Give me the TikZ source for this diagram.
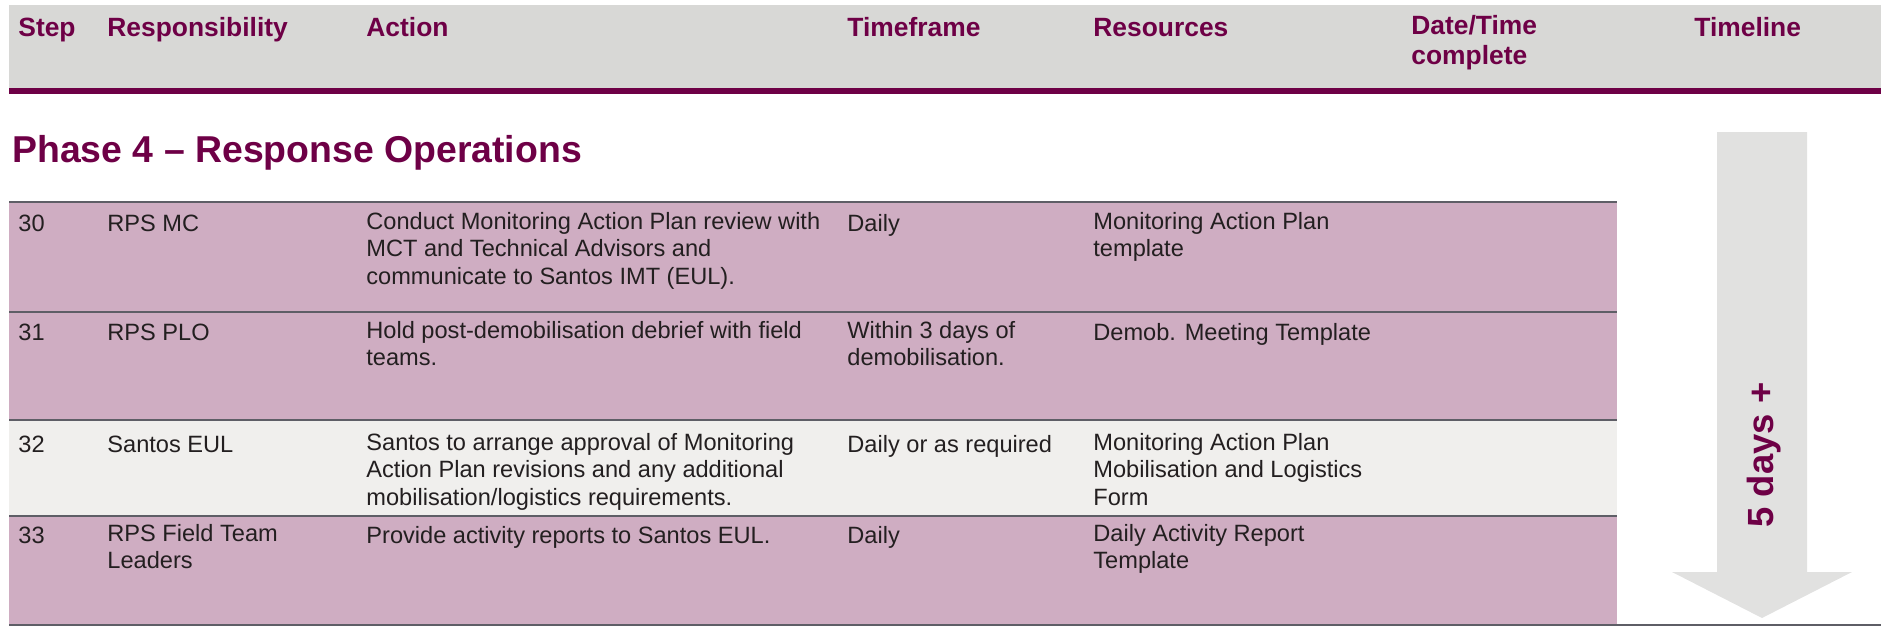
\documentclass[tikz,border=0pt]{standalone}
\usepackage{fontspec}
\setmainfont{Liberation Sans}
\definecolor{plum}{HTML}{6E0046}
\definecolor{headgray}{HTML}{D8D8D6}
\definecolor{rowplum}{HTML}{CFADC2}
\definecolor{rowgray}{HTML}{F0EFED}
\definecolor{rulegray}{HTML}{5E5E66}
\definecolor{arrowgray}{HTML}{E1E1E0}
\definecolor{ink}{HTML}{231F20}

\begin{document}
\begin{tikzpicture}[x=0.5pt, y=-0.5pt,
   head/.style={anchor=north west, yshift=10.5pt, inner sep=0pt, align=left, text=plum,
                execute at begin node=\strut, font=\fontsize{13.2}{15}\selectfont\bfseries},
   cell/.style={anchor=north west, yshift=9.66pt, inner sep=0pt, align=left, text=ink,
                execute at begin node=\strut, font=\fontsize{11.8}{13.8}\selectfont},
   rule/.style={draw=rulegray, line width=0.9pt}]
   \useasboundingbox (0,0) rectangle (1881,627);

   % header band
   \fill[headgray] (9,5) rectangle (1881,88);
   \fill[plum] (9,88) rectangle (1881,94);
   \node[head] (hstep) at (18,36) {Step};
   \node[head] (hresp) at (107,36) {Responsibility};
   \node[head] (hact)  at (366,36) {Action};
   \node[head] (htime) at (847,36) {Timeframe};
   \node[head] (hres)  at (1093,36) {Resources};
   \node[head] (hdate) at (1411,36) {Date/Time\\complete};
   \node[head] (hline) at (1694,36) {Timeline};

   \node[anchor=base west, inner sep=0pt, text=plum,
         font=\fontsize{18.7}{22}\selectfont\bfseries] (phase) at (12,162)
         {Phase 4 -- Response Operations};

   % rows
   \fill[rowplum] (9,202) rectangle (1617,312);
   \fill[rowplum] (9,312) rectangle (1617,420);
   \fill[rowgray] (9,420) rectangle (1617,516);
   \fill[rowplum] (9,516) rectangle (1617,625);
   \draw[rule] (9,202) -- (1617,202);
   \draw[rule] (9,312) -- (1617,312);
   \draw[rule] (9,420) -- (1617,420);
   \draw[rule] (9,516) -- (1617,516);

   \node[cell] (s30) at (18,231) {30};
   \node[cell] (r30) at (107,231) {RPS MC};
   \node[cell] (a30) at (366,231) {Conduct Monitoring Action Plan review with\\MCT and Technical Advisors and\\communicate to Santos IMT (EUL).};
   \node[cell] (t30) at (847,231) {Daily};
   \node[cell] (m30) at (1093,231) {Monitoring Action Plan\\template};

   \node[cell] (s31) at (18,340) {31};
   \node[cell] (r31) at (107,340) {RPS PLO};
   \node[cell] (a31) at (366,340) {Hold post-demobilisation debrief with field\\teams.};
   \node[cell] (t31) at (847,340) {Within 3 days of\\demobilisation.};
   \node[cell] (m31) at (1093,340) {Demob. Meeting Template};

   \node[cell] (s32) at (18,452) {32};
   \node[cell] (r32) at (107,452) {Santos EUL};
   \node[cell] (a32) at (366,452) {Santos to arrange approval of Monitoring\\Action Plan revisions and any additional\\mobilisation/logistics requirements.};
   \node[cell] (t32) at (847,452) {Daily or as required};
   \node[cell] (m32) at (1093,452) {Monitoring Action Plan\\Mobilisation and Logistics\\Form};

   \node[cell] (s33) at (18,543) {33};
   \node[cell] (r33) at (107,543) {RPS Field Team\\Leaders};
   \node[cell] (a33) at (366,543) {Provide activity reports to Santos EUL.};
   \node[cell] (t33) at (847,543) {Daily};
   \node[cell] (m33) at (1093,543) {Daily Activity Report\\Template};

   % timeline arrow
   \fill[arrowgray] (1717,132) -- (1807,132) -- (1807,572) -- (1852,572)
      -- (1762,618) -- (1672,572) -- (1717,572) -- cycle;
   \node[rotate=90, inner sep=0pt, text=plum,
         font=\fontsize{18.2}{21}\selectfont\bfseries] (days) at (1764,455) {5 days +};

   \draw[draw=rulegray, line width=1pt] (9,625) -- (1881,625);
\end{tikzpicture}
\end{document}
